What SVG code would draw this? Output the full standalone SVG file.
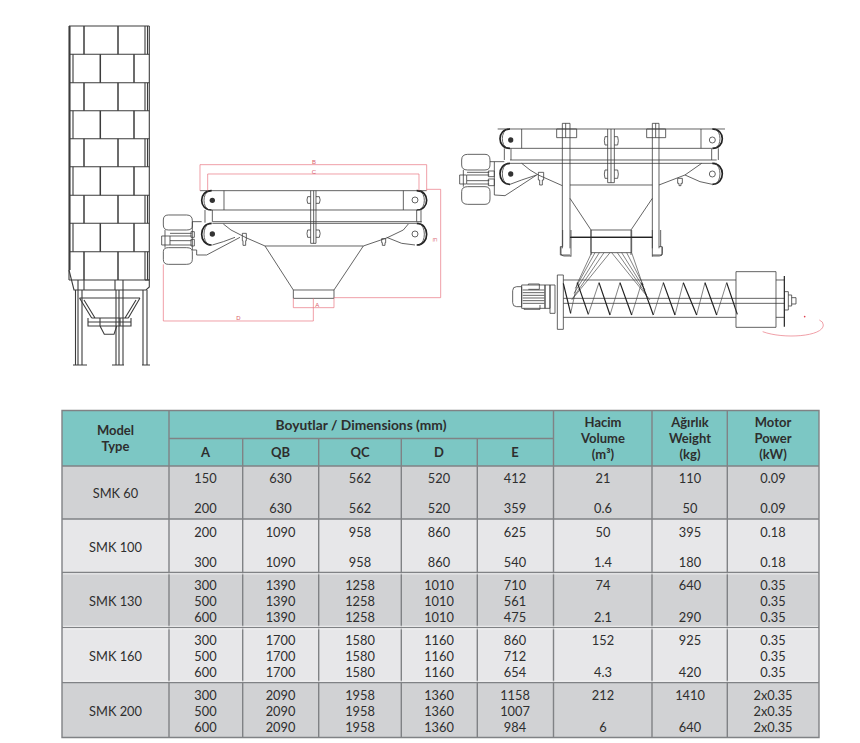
<svg xmlns="http://www.w3.org/2000/svg" width="860" height="743" viewBox="0 0 860 743">
<style>
.l{fill:none;stroke:#3c3c3c;stroke-width:2.4}
.t{stroke-width:2;stroke:#444}
.k{fill:none;stroke:#222;stroke-width:3.6}
.o{fill:none;stroke:#222;stroke-width:5}
.r{fill:none;stroke:#e8707c;stroke-width:2}
.rt{font:18px "Liberation Sans",sans-serif;fill:#d9606c;text-anchor:middle}
.g{fill:none;stroke:#3c3c3c;stroke-width:1.1}
.v{font:12.8px Lato,sans-serif;fill:#2e2e2e;text-anchor:middle}
.h{font:bold 13px Lato,sans-serif;fill:#2e2e2e;text-anchor:middle}
.grid{stroke:#808285;stroke-width:1.4;fill:none}
</style>
<rect width="860" height="743" fill="#fff"/>

<g id="silo" class="g">
<path d="M69 26H149.3M69 54.3H149.3M69 82.7H149.3M69 110.7H149.3M69 138.7H149.3M69 166.7H149.3M69 195.3H149.3M69 223.3H149.3M69 251.7H149.3M69 280H149.3"/>
<path d="M69 26V280M70 26V270M149.3 26V280M73 54.3V82.7M73 110.7V138.7M73 166.7V195.3M73 223.3V251.7M145 26V54.3M147.5 26V54.3M145 82.7V110.7M147.5 82.7V110.7M145 138.7V166.7M147.5 138.7V166.7M145 195.3V223.3M147.5 195.3V223.3M145 251.7V280M147.5 251.7V280"/>
<path stroke-width="1.5" d="M84 26V54.3M118 26V54.3M100.3 54.3V82.7M134 54.3V82.7M84 82.7V110.7M118 82.7V110.7M100.3 110.7V138.7M134 110.7V138.7M84 138.7V166.7M118 138.7V166.7M100.3 166.7V195.3M134 166.7V195.3M84 195.3V223.3M118 195.3V223.3M100.3 223.3V251.7M134 223.3V251.7M84 251.7V280M118 251.7V280"/>
<path d="M69 270L74 290H78V280M78 290H84V280M115 280V290H123V280M145 280L149.3 280V287L146 290H78"/>
<path d="M75.5 290V365M78 290V365M82 290V365M116 290V365M119 290V365M123 290V365M143 290V365M147 290V365M73 365H87M112 365H124M142 365H150"/>
<path d="M79.5 298H140M79.5 298L91.7 318M140 298L128.3 318M84 300L95 318M136 300L125 318M91.7 318H128.3M88 318V326H131V318M88 322H131M100 326L104.3 334.3H114L116.7 326"/>
<path d="M100 318V326M120 318V326"/>
</g>

<g id="feeder-side" transform="translate(155 150) scale(.33333)">
<path class="l" d="M135 122H815M170 180H785M172 215H800M172 220H785M150 180V218M172 180V215M785 180V215M798 180V218M207 122V180M745 122V180"/>
<path class="o" d="M170 122C130 122 130 180 170 180M785 122C825 122 825 180 785 180M170 220C130 220 130 285 170 285M785 220C825 220 825 285 785 285"/>
<path class="l" d="M162 122C142 130 142 172 162 180M793 122C813 130 813 172 793 180M162 220C142 230 142 275 162 285M793 220C813 230 813 275 793 285"/>
<circle cx="172" cy="151" r="8" fill="#333"/><circle cx="172" cy="252" r="8" fill="#333"/>
<circle class="l" cx="780" cy="150" r="9"/><circle class="l" cx="780" cy="252" r="9"/>
<path class="l" d="M467 122V280H483V122M476 122V280"/>
<path class="l" d="M467 140H458Q454 150 458 160H467M483 140H493Q498 150 493 160H483M467 240H458Q454 250 458 262H467M483 240H493Q498 250 493 262H483"/>
<path class="l" d="M205 222L228 240L275 264L330 288H625L695 264L745 240L760 222M330 288L415 420M625 288L537 420M415 420H537V445H415Z"/>
<path class="l" d="M112 215H140M112 215V300L125 300V315H155L255 262M172 285L205 275L240 262M695 262L740 280L780 285M262 250H274V272H272V286H264V272H262ZM680 266H692V278H690V286H682V278H680Z"/>
<path class="l" d="M40 195H95Q112 195 112 212V228Q112 240 95 240H40Q25 240 25 225V210Q25 195 40 195ZM40 293H95Q112 293 112 305V328Q112 343 95 343H40Q25 343 25 328V305Q25 293 40 293ZM30 240V293M45 250H110M45 258H110M45 272H110M45 285H110M20 258H45V285H20ZM108 245H118V262H108ZM108 268H118V288H108Z"/>
<g id="dims">
<path class="r" d="M135 44H815M135 44V122M815 44V122M158 72H792M158 72V122M792 72V122M815 118H857V443H537M415 445V473H537V445M475 445V513H25V343"/>
<text class="rt" x="477" y="42">B</text><text class="rt" x="477" y="72">C</text>
<text class="rt" x="487" y="470">A</text><text class="rt" x="250" y="510">D</text>
<text class="rt" transform="translate(835 270) rotate(90)">E</text>
</g>
</g>

<g id="feeder-front" transform="translate(455 115) scale(.33333)">
<path class="l" d="M128 42H810M165 100H770M165 135H785M165 145H785M148 100V135M168 100V135M770 100V135M790 100V135M200 42V100M738 42V100"/>
<path class="o" d="M165 42C125 42 125 100 165 100M772 42C812 42 812 100 772 100M165 145C125 145 125 208 165 208M772 145C812 145 812 208 772 208"/>
<path class="l" d="M157 42C137 50 137 92 157 100M780 42C800 50 800 92 780 100M157 145C137 155 137 198 157 208M780 145C800 155 800 198 780 208"/>
<circle cx="167" cy="75" r="8" fill="#333"/><circle cx="167" cy="177" r="8" fill="#333"/>
<circle class="l" cx="772" cy="75" r="9"/><circle class="l" cx="772" cy="177" r="9"/>
<path class="l" d="M458 42V203H478V42M468 42V203"/>
<path class="l" d="M458 65H450Q446 77 450 90H458M478 65H488Q492 77 488 90H478M458 165H450Q446 177 450 190H458M478 165H488Q492 177 488 190H478"/>
<path class="l" d="M322 25H345V400M322 25V400M592 25H612V400M592 25V400M305 42H365V68H305ZM575 42H632V68H575ZM332 25V68M602 25V68"/>
<path class="l" d="M322 395H316V420H345M612 395H621V420H592"/>
<path class="l" d="M200 145L225 165L250 180L322 212M345 210H592M612 210L690 180L740 145M118 140V240L150 242L245 180M165 208L200 195L245 180M690 180L735 200L772 208"/>
<path class="l" d="M345 250L408 345M592 250L528 345M408 345H528M408 345V420M528 345V420"/>
<path class="k" d="M345 367H592"/>
<path class="l" d="M250 172H266V195H262V210H254V195H250ZM668 190H682V205H678V212H672V205H668Z"/>
<path class="l" d="M38 118H90Q105 118 105 135V150Q105 165 90 165H38Q20 165 20 150V135Q20 118 38 118ZM38 215H90Q105 215 105 230V252Q105 268 90 268H38Q20 268 20 252V230Q20 215 38 215ZM25 165V215M36 172H103M36 180H103M36 197H103M36 207H103M14 180H35V207H14ZM100 168H118V185H100ZM100 192H118V212H100ZM105 140H148"/>
</g>

<g id="screw" transform="translate(500 230) scale(.33333)">
<path class="l" d="M188 0V50M213 0V80M457 0V80M482 0V50M273 0V68H395V0M183 50V70Q183 78 192 78H213M487 50V70Q487 78 478 78H457"/>
<path class="k" d="M212 22H457"/>
<path class="l t" d="M275 68L232 160M285 68L226 175M298 68L222 190M312 68L218 205M330 68L215 210M335 68L450 210M352 68L440 195M365 68L435 180M380 68L430 165M395 68L425 155"/>
<path class="l" d="M172 135H190V298H172ZM190 150H708M190 262H708M190 205H853M190 220H853"/>
<path class="l t" d="M212 250L232 158M265 253L297 158M330 255L360 158M395 255L425 158M460 255L490 158M525 255L550 158M590 255L615 158M650 255L680 158"/>
<path class="k" d="M190 160L212 250M232 158L265 253M297 158L330 255M360 158L395 255M425 158L460 255M490 158L525 255M550 158L590 255M615 158L650 255M680 158L712 253"/>
<path class="l" d="M708 125H828V292H708ZM828 150H853M828 262H853M853 185L865 185V240H853M865 195H875V228H865M875 203H888V222H875"/>
<path class="k" d="M853 138V290"/>
<path class="l" d="M65 170H50Q38 170 38 182V218Q38 230 50 230H65ZM65 165H135V235H65ZM85 165V162H118V178H85M72 235V238H120V225M68 180H133M68 188H133M68 196H133M68 204H133M68 212H133M68 220H133M135 165H150V235H135ZM150 165H165V250H150Z"/>
<path class="r" d="M788 305C850 328 970 320 970 285Q970 275 958 270"/>
<circle cx="914" cy="260" r="2.5" fill="#e0404f"/>
</g>

<g id="table">
<rect x="62" y="410.5" width="757" height="55.5" fill="#7cc7c4"/>
<rect x="62" y="466" width="757" height="53" fill="#d1d2d4"/>
<rect x="62" y="519" width="757" height="53.5" fill="#e7e7e9"/>
<rect x="62" y="572.5" width="757" height="55" fill="#d1d2d4"/>
<rect x="62" y="627.5" width="757" height="55" fill="#e7e7e9"/>
<rect x="62" y="682.5" width="757" height="55" fill="#d1d2d4"/>
<path class="grid" d="M62 410.5H819V737.5H62ZM169 438.5H553.5M62 466H819M62 519H819M62 572.5H819M62 627.5H819M62 682.5H819M169 410.5V737.5M242.7 438.5V737.5M318.7 438.5V737.5M401.3 438.5V737.5M477.3 438.5V737.5M553.5 410.5V737.5M652 410.5V737.5M727.3 410.5V737.5"/>
<path fill="none" stroke="#fff" stroke-width=".8" d="M63 573.8H818M63 626.3H818M63 628.8H818M63 681.3H818"/>
<g id="header">
<text class="h" x="115.5" y="435">Model</text><text class="h" x="115.5" y="451">Type</text>
<text class="h" x="361" y="430" style="font-size:13.8px">Boyutlar / Dimensions (mm)</text>
<text class="h" x="205.5" y="457">A</text><text class="h" x="280.5" y="457">QB</text><text class="h" x="360" y="457">QC</text><text class="h" x="439" y="457">D</text><text class="h" x="515" y="457">E</text>
<text class="h" x="603" y="427">Hacim</text><text class="h" x="603" y="443">Volume</text><text class="h" x="603" y="459">(m³)</text>
<text class="h" x="690" y="427">Ağırlık</text><text class="h" x="690" y="443">Weight</text><text class="h" x="690" y="459">(kg)</text>
<text class="h" x="773" y="427">Motor</text><text class="h" x="773" y="443">Power</text><text class="h" x="773" y="459">(kW)</text>
</g>
<g id="smk60">
<text class="v" x="115.5" y="498">SMK 60</text>
<text class="v" x="205.5" y="483">150</text><text class="v" x="280.5" y="483">630</text><text class="v" x="360" y="483">562</text><text class="v" x="439" y="483">520</text><text class="v" x="515" y="483">412</text><text class="v" x="603" y="483">21</text><text class="v" x="690" y="483">110</text><text class="v" x="773" y="483">0.09</text>
<text class="v" x="205.5" y="513">200</text><text class="v" x="280.5" y="513">630</text><text class="v" x="360" y="513">562</text><text class="v" x="439" y="513">520</text><text class="v" x="515" y="513">359</text><text class="v" x="603" y="513">0.6</text><text class="v" x="690" y="513">50</text><text class="v" x="773" y="513">0.09</text>
</g>
<g id="smk100">
<text class="v" x="115.5" y="552">SMK 100</text>
<text class="v" x="205.5" y="537">200</text><text class="v" x="280.5" y="537">1090</text><text class="v" x="360" y="537">958</text><text class="v" x="439" y="537">860</text><text class="v" x="515" y="537">625</text><text class="v" x="603" y="537">50</text><text class="v" x="690" y="537">395</text><text class="v" x="773" y="537">0.18</text>
<text class="v" x="205.5" y="567">300</text><text class="v" x="280.5" y="567">1090</text><text class="v" x="360" y="567">958</text><text class="v" x="439" y="567">860</text><text class="v" x="515" y="567">540</text><text class="v" x="603" y="567">1.4</text><text class="v" x="690" y="567">180</text><text class="v" x="773" y="567">0.18</text>
</g>
<g id="smk130">
<text class="v" x="115.5" y="606">SMK 130</text>
<text class="v" x="205.5" y="590">300</text><text class="v" x="280.5" y="590">1390</text><text class="v" x="360" y="590">1258</text><text class="v" x="439" y="590">1010</text><text class="v" x="515" y="590">710</text><text class="v" x="603" y="590">74</text><text class="v" x="690" y="590">640</text><text class="v" x="773" y="590">0.35</text>
<text class="v" x="205.5" y="606">500</text><text class="v" x="280.5" y="606">1390</text><text class="v" x="360" y="606">1258</text><text class="v" x="439" y="606">1010</text><text class="v" x="515" y="606">561</text><text class="v" x="773" y="606">0.35</text>
<text class="v" x="205.5" y="621.5">600</text><text class="v" x="280.5" y="621.5">1390</text><text class="v" x="360" y="621.5">1258</text><text class="v" x="439" y="621.5">1010</text><text class="v" x="515" y="621.5">475</text><text class="v" x="603" y="621.5">2.1</text><text class="v" x="690" y="621.5">290</text><text class="v" x="773" y="621.5">0.35</text>
</g>
<g id="smk160">
<text class="v" x="115.5" y="661">SMK 160</text>
<text class="v" x="205.5" y="645">300</text><text class="v" x="280.5" y="645">1700</text><text class="v" x="360" y="645">1580</text><text class="v" x="439" y="645">1160</text><text class="v" x="515" y="645">860</text><text class="v" x="603" y="645">152</text><text class="v" x="690" y="645">925</text><text class="v" x="773" y="645">0.35</text>
<text class="v" x="205.5" y="661">500</text><text class="v" x="280.5" y="661">1700</text><text class="v" x="360" y="661">1580</text><text class="v" x="439" y="661">1160</text><text class="v" x="515" y="661">712</text><text class="v" x="773" y="661">0.35</text>
<text class="v" x="205.5" y="676.5">600</text><text class="v" x="280.5" y="676.5">1700</text><text class="v" x="360" y="676.5">1580</text><text class="v" x="439" y="676.5">1160</text><text class="v" x="515" y="676.5">654</text><text class="v" x="603" y="676.5">4.3</text><text class="v" x="690" y="676.5">420</text><text class="v" x="773" y="676.5">0.35</text>
</g>
<g id="smk200">
<text class="v" x="115.5" y="716">SMK 200</text>
<text class="v" x="205.5" y="700">300</text><text class="v" x="280.5" y="700">2090</text><text class="v" x="360" y="700">1958</text><text class="v" x="439" y="700">1360</text><text class="v" x="515" y="700">1158</text><text class="v" x="603" y="700">212</text><text class="v" x="690" y="700">1410</text><text class="v" x="773" y="700">2x0.35</text>
<text class="v" x="205.5" y="716">500</text><text class="v" x="280.5" y="716">2090</text><text class="v" x="360" y="716">1958</text><text class="v" x="439" y="716">1360</text><text class="v" x="515" y="716">1007</text><text class="v" x="773" y="716">2x0.35</text>
<text class="v" x="205.5" y="732">600</text><text class="v" x="280.5" y="732">2090</text><text class="v" x="360" y="732">1958</text><text class="v" x="439" y="732">1360</text><text class="v" x="515" y="732">984</text><text class="v" x="603" y="732">6</text><text class="v" x="690" y="732">640</text><text class="v" x="773" y="732">2x0.35</text>
</g>
</g>
</svg>
